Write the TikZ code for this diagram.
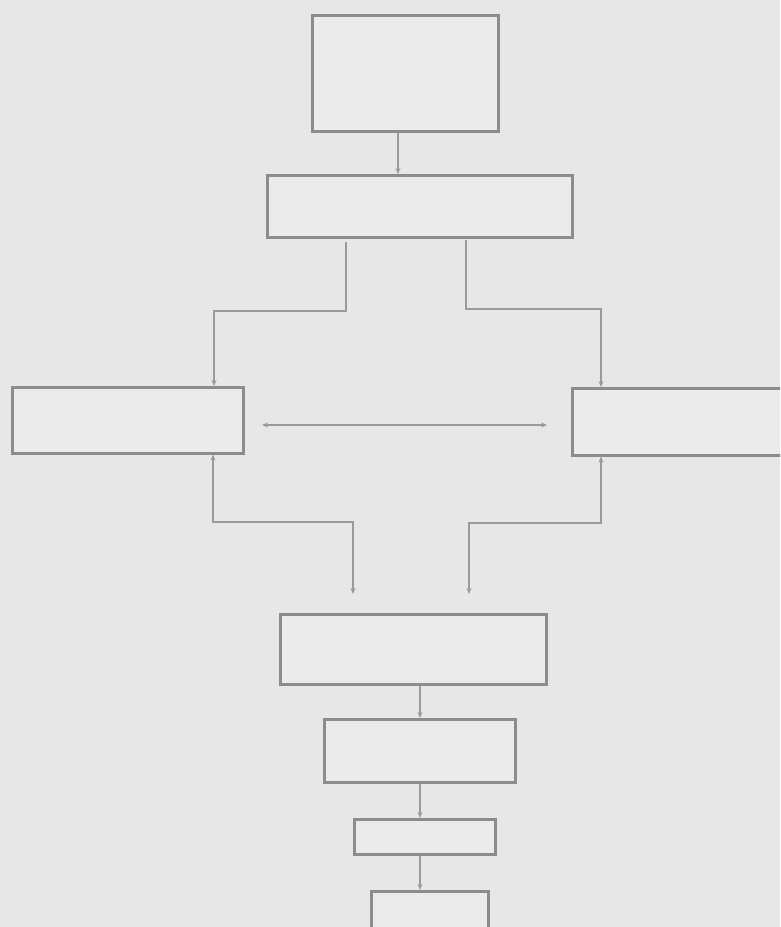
\documentclass[tikz,border=0pt]{standalone}
\usetikzlibrary{arrows.meta}
\definecolor{bgc}{HTML}{E7E7E7}
\definecolor{boxc}{HTML}{EBEBEB}
\definecolor{linec}{HTML}{8C8C8C}
\definecolor{conc}{HTML}{9A9A9A}
\begin{document}
\begin{tikzpicture}[x=1pt,y=-1pt,
  bx/.style={draw=linec,line width=2.6pt,fill=boxc,inner sep=0pt,anchor=north west},
  con/.style={draw=conc,line width=1.4pt,-{Stealth[length=6pt,width=5pt]}},
  con2/.style={draw=conc,line width=1.4pt,{Stealth[length=6pt,width=5pt]}-{Stealth[length=6pt,width=5pt]}}]
\useasboundingbox (0,0) rectangle (780,927);
\clip (0,0) rectangle (780,927);
\fill[bgc] (0,0) rectangle (780,927);
% boxes
\node[bx,minimum width=186pt,minimum height=116pt] (b1) at (311,14) {};
\node[bx,minimum width=305pt,minimum height=62pt] (b2) at (266,174) {};
\node[bx,minimum width=231pt,minimum height=66pt] (bl) at (11,386) {};
\node[bx,minimum width=230pt,minimum height=67pt] (br) at (571,387) {};
\node[bx,minimum width=266pt,minimum height=70pt] (b3) at (279,613) {};
\node[bx,minimum width=191pt,minimum height=63pt] (b4) at (323,718) {};
\node[bx,minimum width=141pt,minimum height=35pt] (b5) at (353,818) {};
\node[bx,minimum width=117pt,minimum height=60pt] (b6) at (370,890) {};
% coordinates
\coordinate (l1) at (346,242);
\coordinate (l2) at (466,240);
\coordinate (ha) at (262,425);
\coordinate (hb) at (547,425);
\coordinate (d1) at (353,594);
\coordinate (d2) at (469,594);
% connectors
\draw[con] (b1.south -| 398,0) -- (b2.north -| 398,0);
\draw[con] (l1) -- (346,311) -- (214,311) -- (bl.north -| 214,0);
\draw[con] (l2) -- (466,309) -- (601,309) -- (br.north -| 601,0);
\draw[con2] (ha) -- (hb);
\draw[con2] (bl.south -| 213,0) -- (213,522) -- (353,522) -- (d1);
\draw[con2] (br.south -| 601,0) -- (601,523) -- (469,523) -- (d2);
\draw[con] (b3.south -| 420,0) -- (b4.north -| 420,0);
\draw[con] (b4.south -| 420,0) -- (b5.north -| 420,0);
\draw[con] (b5.south -| 420,0) -- (b6.north -| 420,0);
\end{tikzpicture}
\end{document}
